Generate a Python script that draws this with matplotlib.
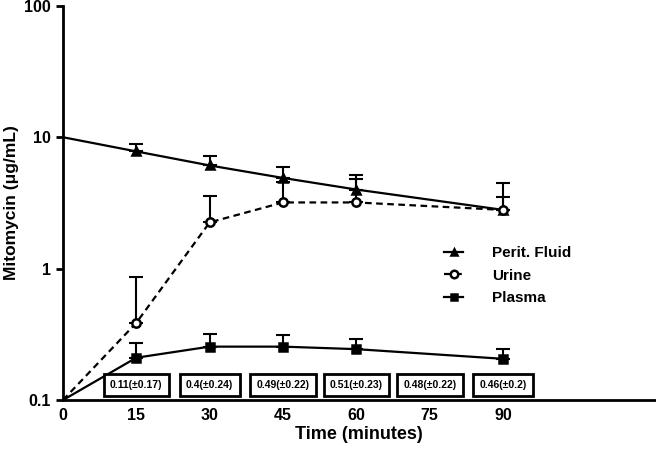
import numpy as np
import matplotlib
matplotlib.use("Agg")
import matplotlib.pyplot as plt

plt.rcParams['font.family'] = ['Liberation Sans', 'DejaVu Sans']
plt.rcParams['font.weight'] = 'bold'

czas = [0, 15, 30, 45, 60, 90]
perit = [10, 7.8, 6.1, 4.9, 4.0, 2.8]
perit_gora = [10, 8.85, 7.15, 5.9, 5.2, 4.45]
urine = [0.1, 0.387, 2.25, 3.19, 3.19, 2.8]
urine_gora = [0.1, 0.87, 3.55, 4.6, 4.85, 3.48]
plasma = [0.1, 0.21, 0.255, 0.255, 0.244, 0.206]
plasma_gora = [0.1, 0.274, 0.318, 0.311, 0.29, 0.245]

ramki_x = [15, 30, 45, 60, 75, 90]
ramki_tekst = ["0.11(±0.17)", "0.4(±0.24)", "0.49(±0.22)", "0.51(±0.23)", "0.48(±0.22)", "0.46(±0.2)"]

fig = plt.figure(figsize=(6.56, 4.49), dpi=100)
ax = fig.add_axes([0.096, 0.109, 0.902, 0.878])
ax.set_yscale("log")
ax.set_ylim(0.1, 100)
ax.set_xlim(0, 121)


def seria(y, gora, marker, ls, mfc, label, ms):
    y = np.array(y)
    err = np.array(gora) - y
    ax.errorbar(czas[1:], y[1:], yerr=[np.zeros(len(y) - 1), err[1:]], fmt="none",
                ecolor="k", elinewidth=1.5, capsize=5, capthick=1.5, zorder=2)
    ax.plot(czas, y, color="k", linestyle=ls, linewidth=1.6, marker=marker, markersize=ms,
            markerfacecolor=mfc, markeredgecolor="k", markeredgewidth=1.8,
            markevery=list(range(1, len(y))), label=label, zorder=3)


seria(perit, perit_gora, "^", "-", "k", "Perit. Fluid", 5.5)
seria(urine, urine_gora, "o", (0, (3, 2)), "w", "Urine", 6)
seria(plasma, plasma_gora, "s", "-", "k", "Plasma", 5.5)

for x, t in zip(ramki_x, ramki_tekst):
    ax.text(x, 0.13, t, ha="center", va="center", fontsize=7.5, fontweight="bold",
            bbox=dict(boxstyle="square,pad=0.6", facecolor="w", edgecolor="k", linewidth=2))

ax.set_xticks([0, 15, 30, 45, 60, 75, 90])
ax.set_yticks([0.1, 1, 10, 100])
ax.set_yticklabels(["0.1", "1", "10", "100"])
ax.minorticks_off()
ax.tick_params(axis="x", length=0, labelsize=11.5, pad=6)
ax.tick_params(axis="y", length=5, width=2, labelsize=11.5, direction="out")
ax.spines["top"].set_visible(False)
ax.spines["right"].set_visible(False)
ax.spines["left"].set_linewidth(2)
ax.spines["bottom"].set_linewidth(2)

ax.set_xlabel("Time (minutes)", fontsize=13, fontweight="bold", labelpad=2)
ax.set_ylabel("Mitomycin (μg/mL)", fontsize=12.5, fontweight="bold", labelpad=4)

ax.legend(loc="upper left", bbox_to_anchor=(0.62, 0.425), frameon=False, fontsize=11,
          handlelength=1.3, handletextpad=1.9, labelspacing=0.55, markerscale=0.9)

fig.savefig("out.png", dpi=100)
